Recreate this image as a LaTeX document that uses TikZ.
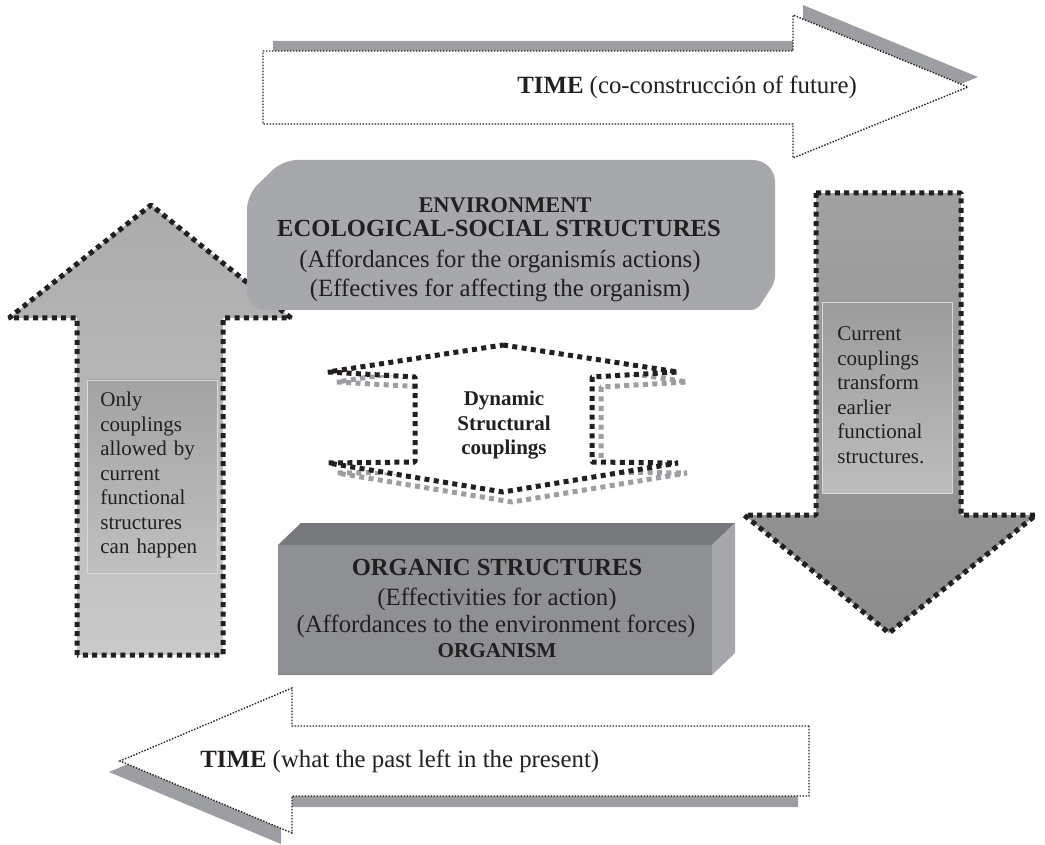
\documentclass[tikz,border=0pt]{standalone}
\usepackage{fontspec}
\setmainfont{Liberation Serif}
\definecolor{shadowgray}{HTML}{9D9EA2}
\definecolor{envgray}{HTML}{A7A8AC}
\definecolor{orgfront}{HTML}{8F9094}
\definecolor{orgtop}{HTML}{77787B}
\definecolor{orgside}{HTML}{A6A7AB}
\definecolor{ink}{HTML}{231F20}
\tikzset{
  timeline/.style={fill=white, draw=ink, line width=0.7pt, dash pattern=on 0.7pt off 0.8pt},
  timeshadow/.style={fill=shadowgray},
  bigdots/.style={draw=ink, line width=2.5pt, line join=bevel, dash pattern=on 2.5pt off 2.2pt},
  greydots/.style={draw=shadowgray, line width=2.5pt, line join=bevel, dash pattern=on 2.5pt off 2.2pt},
  bodytext/.style={text=ink, inner sep=0pt, font=\fontsize{12.4}{14.5}\selectfont},
  headtext/.style={text=ink, inner sep=0pt, font=\bfseries\fontsize{12.3}{14.5}\selectfont},
  subhead/.style={text=ink, inner sep=0pt, font=\bfseries\fontsize{10.6}{12.5}\selectfont},
  sidetext/.style={text=ink, inner sep=0pt, align=left, font=\fontsize{10.5}{12.25}\selectfont},
}
\begin{document}
\begin{tikzpicture}[x=0.5pt, y=-0.5pt]
\useasboundingbox (0,0) rectangle (1045,845);

% ---- time towards the future (top) ----
\fill[timeshadow, shift={(10,-10)}] (263,51) -- (793,51) -- (793,15) -- (968,87) -- (793,158) -- (793,124) -- (263,124) -- cycle;
\path[timeline] (263,51) -- (793,51) -- (793,15) -- (968,87) -- (793,158) -- (793,124) -- (263,124) -- cycle;
\node[bodytext, anchor=base west] (timefuture) at (517,94) {{\bfseries TIME} (co-construcción of future)};

% ---- upward arrow on the left ----
\path[top color=black!33, middle color=black!24, bottom color=black!21, bigdots]
  (77,655) -- (77,318) -- (9,318) -- (151,205) -- (291,318) -- (223,318) -- (223,655) -- cycle;
\path[top color=black!36, middle color=black!19, bottom color=black!25, draw=white!85!black, line width=0.4pt]
  (87,380) rectangle (217,573);
\node[sidetext, anchor=base west, text width=60pt] (onlytext) at (100,407)
  {Only\\couplings\\allowed by\\current\\functional\\structures\\can happen};

% ---- downward arrow on the right ----
\path[top color=black!37, middle color=black!31, bottom color=black!45, bigdots]
  (816,193) -- (961,193) -- (961,515) -- (1036,515) -- (889,633) -- (744,515) -- (816,515) -- cycle;
\path[top color=black!39, middle color=black!20, bottom color=black!26, draw=white!85!black, line width=0.4pt]
  (822,302) rectangle (952,493);
\node[sidetext, anchor=base west, text width=60pt] (currenttext) at (837,341)
  {Current\\couplings\\transform\\earlier\\functional\\structures.};

% ---- environment block ----
\fill[envgray] (247,250) [rounded corners=7pt] -- (247,195) -- (283,160) [rounded corners=11pt] -- (775,160) [rounded corners=3pt] -- (775,282) -- (757,310) [rounded corners=9pt] -- (247,310) [sharp corners] -- cycle;
\node[subhead, anchor=base, font=\bfseries\fontsize{11.2}{13}\selectfont] (envtitle) at (505,213) {ENVIRONMENT};
\node[headtext, anchor=base] (envhead) at (499,237) {ECOLOGICAL-SOCIAL STRUCTURES};
\node[bodytext, anchor=base] (envaff) at (500,268) {(Affordances for the organismís actions)};
\node[bodytext, anchor=base] (enveff) at (500,297) {(Effectives for affecting the organism)};

% ---- dynamic structural couplings (two-headed arrow) ----
\path[greydots, shift={(9,10)}]
  (503,345) -- (678,372) -- (592,377) -- (592,462) -- (678,463) -- (503,492) -- (328,463) -- (415,462) -- (415,377) -- (328,372) -- cycle;
\path[fill=white, bigdots]
  (503,345) -- (678,372) -- (592,377) -- (592,462) -- (678,463) -- (503,492) -- (328,463) -- (415,462) -- (415,377) -- (328,372) -- cycle;
\node[text=ink, inner sep=0pt, align=center, text width=60pt, anchor=base, font=\bfseries\fontsize{10.5}{12.2}\selectfont]
  (couplings) at (504,406) {Dynamic\\Structural\\couplings};

% ---- organic block (box) ----
\fill[orgtop] (278,545) -- (301,523) -- (735,523) -- (712,545) -- cycle;
\fill[orgside] (712,545) -- (735,523) -- (735,653) -- (712,675) -- cycle;
\fill[orgfront] (278,545) rectangle (712,675);
\draw[black!50, line width=0.6pt] (278,674.5) -- (712,674.5);
\node[headtext, anchor=base] (orghead) at (497,575) {ORGANIC STRUCTURES};
\node[bodytext, anchor=base] (orgeff) at (497,605) {(Effectivities for action)};
\node[bodytext, anchor=base] (orgaff) at (496,632) {(Affordances to the environment forces)};
\node[subhead, anchor=base] (organism) at (497,657) {ORGANISM};

% ---- time from the past (bottom) ----
\fill[timeshadow, shift={(-11,11)}] (809,726) -- (292,726) -- (292,688) -- (120,761) -- (292,833) -- (292,796) -- (809,796) -- cycle;
\path[timeline] (809,726) -- (292,726) -- (292,688) -- (120,761) -- (292,833) -- (292,796) -- (809,796) -- cycle;
\node[bodytext, anchor=base west] (timepast) at (200,767) {{\bfseries TIME} (what the past left in the present)};
\end{tikzpicture}
\end{document}
